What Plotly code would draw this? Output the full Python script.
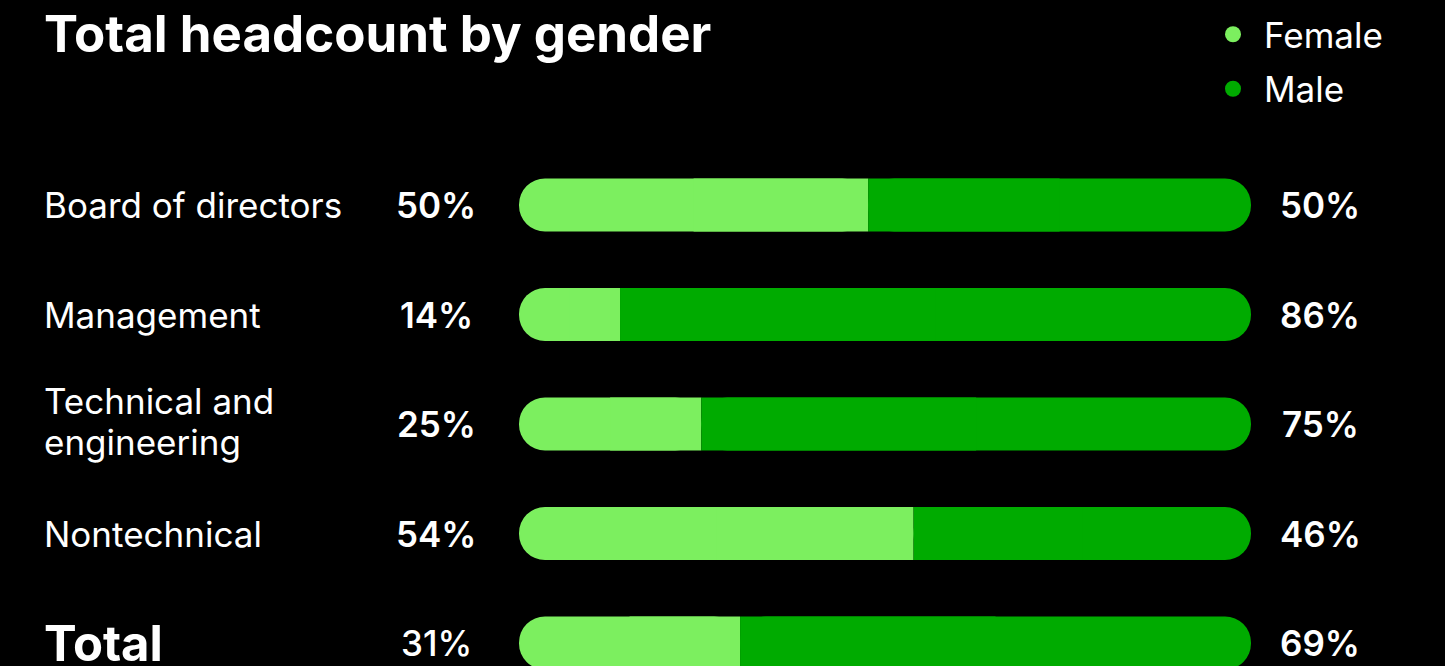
import plotly.graph_objects as go

categories = ["Board of directors", "Management", "Technical and<br>engineering", "Nontechnical", "Total"]
# bar lengths as drawn in the reference (shares of headcount, %)
female = [47.7, 13.8, 24.9, 53.9, 30.2]
male = [52.3, 86.2, 75.1, 46.1, 69.8]
# printed labels
female_labels = ["50%", "14%", "25%", "54%", "31%"]
male_labels = ["50%", "86%", "75%", "46%", "69%"]

FEMALE_C = "#7CEF5F"
MALE_C = "#00AB00"
FONT = "Inter"
W, H = 1445, 666
BAR_W = 0.485
LINE_GAP = 41

total = [f + m for f, m in zip(female, male)]
mid_f = [f / 2 for f in female]
mid_m = [f + m / 2 for f, m in zip(female, male)]

fig = go.Figure()
# rounded pills
fig.add_trace(go.Bar(
    y=categories, x=female, base=[0] * len(female), orientation="h",
    marker=dict(color=FEMALE_C, cornerradius="50%", line=dict(width=0)),
    width=BAR_W, showlegend=False, hoverinfo="skip"))
fig.add_trace(go.Bar(
    y=categories, x=male, base=female, orientation="h",
    marker=dict(color=MALE_C, cornerradius="50%", line=dict(width=0)),
    width=BAR_W, showlegend=False, hoverinfo="skip"))
# square-off inner ends at the female/male boundary
fig.add_trace(go.Bar(
    y=categories, x=[f - h for f, h in zip(female, mid_f)], base=mid_f, orientation="h",
    marker=dict(color=FEMALE_C, line=dict(width=0)),
    width=BAR_W, showlegend=False, hoverinfo="skip"))
fig.add_trace(go.Bar(
    y=categories, x=[h - f for f, h in zip(female, mid_m)], base=female, orientation="h",
    marker=dict(color=MALE_C, line=dict(width=0)),
    width=BAR_W, showlegend=False, hoverinfo="skip"))

# legend entries
fig.add_trace(go.Scatter(x=[None], y=[None], mode="markers", name="Female",
                         marker=dict(color=FEMALE_C, size=16, symbol="circle"),
                         legendgroup="f"))
fig.add_trace(go.Scatter(x=[None], y=[None], mode="markers", name="Male",
                         marker=dict(color=MALE_C, size=16, symbol="circle"),
                         legendgroup="m"))

annotations = []
for i, cat in enumerate(categories):
    is_total = cat == "Total"
    lines = cat.split("<br>")
    n = len(lines)
    for j, line in enumerate(lines):
        shift = ((n - 1) / 2 - j) * LINE_GAP + (2.5 if n > 1 else 0)
        annotations.append(dict(
            x=42 / W, xref="paper", y=cat, yref="y", xanchor="left", yanchor="middle",
            text=line, showarrow=False, align="left", yshift=shift,
            font=dict(family=FONT, size=49 if is_total else 35, color="white",
                      weight=700 if is_total else 400)))
    annotations.append(dict(
        x=436 / W, xref="paper", y=cat, yref="y", xanchor="center", yanchor="middle",
        text=female_labels[i], showarrow=False,
        font=dict(family=FONT, size=35, color="white", weight=500 if is_total else 600)))
    annotations.append(dict(
        x=1320 / W, xref="paper", y=cat, yref="y", xanchor="center", yanchor="middle",
        text=male_labels[i], showarrow=False,
        font=dict(family=FONT, size=35, color="white", weight=600)))

annotations.append(dict(
    x=42 / W, xref="paper", y=1 - 33 / H, yref="paper", xanchor="left", yanchor="middle",
    text="Total headcount by gender", showarrow=False,
    font=dict(family=FONT, size=51, color="white", weight=700)))

step = 109.5
c0 = 205
fig.update_layout(
    width=W, height=H,
    paper_bgcolor="black", plot_bgcolor="black",
    margin=dict(l=0, r=0, t=0, b=0),
    barmode="overlay",
    xaxis=dict(domain=[519 / W, 1251 / W], range=[0, max(total)], visible=False, fixedrange=True),
    yaxis=dict(domain=[0, 1], type="category", categoryarray=categories,
               range=[(H - c0) / step, -c0 / step], visible=False, fixedrange=True),
    annotations=annotations,
    showlegend=True,
    legend=dict(x=1202 / W, y=1 - 5 / H, xanchor="left", yanchor="top",
                bgcolor="rgba(0,0,0,0)", font=dict(family=FONT, size=35, color="white"),
                tracegroupgap=6, itemwidth=52),
)

fig.write_html("out.html", config={"displayModeBar": False},
               post_script="document.body.style.margin='0';")
